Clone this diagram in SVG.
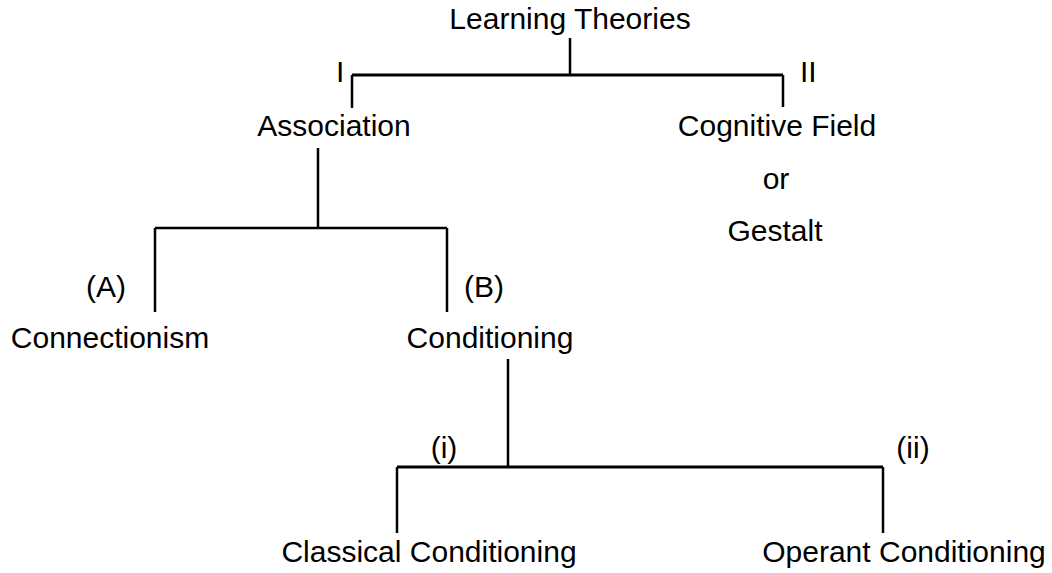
<svg xmlns="http://www.w3.org/2000/svg" width="1052" height="573" viewBox="0 0 1052 573">
<style>
text{font-family:"Liberation Sans",Arial,sans-serif;font-size:30px;fill:#000}
.m{text-anchor:middle}
.c{stroke:#000;fill:none;stroke-width:2.5}
.t{stroke-width:3}
</style>
<rect width="1052" height="573" fill="#fff"/>
<g id="connectors">
<path class="c" d="M570 38V75"/>
<path class="c t" d="M352 75H783"/>
<path class="c" d="M352 75V108M783 75V107"/>
<path class="c" d="M318 148V228"/>
<path class="c" d="M155 228H447"/>
<path class="c" d="M155 228V312M447 228V312"/>
<path class="c" d="M508 359V467"/>
<path class="c t" d="M397 467H883"/>
<path class="c" d="M397 467V533M883 467V533"/>
</g>
<g id="n-learning"><text class="m" x="570" y="29">Learning Theories</text></g>
<g id="l-I"><text x="336" y="82">I</text></g>
<g id="l-II"><text x="800" y="82">II</text></g>
<g id="n-association"><text class="m" x="334" y="136">Association</text></g>
<g id="n-cognitive"><text class="m" x="777" y="136">Cognitive Field</text><text class="m" x="776" y="189">or</text><text class="m" x="775" y="241">Gestalt</text></g>
<g id="l-A"><text class="m" x="106" y="297">(A)</text></g>
<g id="l-B"><text class="m" x="484" y="297">(B)</text></g>
<g id="n-connectionism"><text class="m" x="110" y="348">Connectionism</text></g>
<g id="n-conditioning"><text class="m" x="490" y="348">Conditioning</text></g>
<g id="l-i"><text class="m" x="444" y="458">(i)</text></g>
<g id="l-ii"><text class="m" x="913" y="458">(ii)</text></g>
<g id="n-classical"><text class="m" x="429" y="562">Classical Conditioning</text></g>
<g id="n-operant"><text class="m" x="904" y="562">Operant Conditioning</text></g>
</svg>
